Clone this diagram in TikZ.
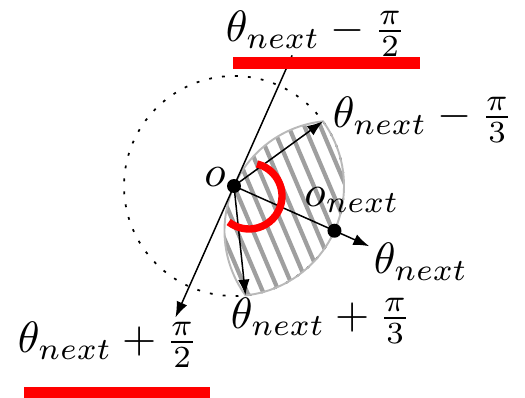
\documentclass[tikz,border=0pt]{standalone}
\usetikzlibrary{arrows.meta}
\begin{document}
\begin{tikzpicture}[
  x=0.02cm, y=0.02cm,
  >={Latex[length=9pt,width=6.5pt]},
  dot/.style={circle, fill=black, inner sep=0pt, minimum size=0.28cm},
  lab/.style={scale=2.5, inner sep=0pt},
  ray/.style={->, line width=0.85pt},
  hatch/.style={draw=gray!75, line width=2.4pt},
  rim/.style={draw=gray!55, line width=1.1pt},
  redarc/.style={draw=red, line width=4.2pt},
]
\useasboundingbox (0,0) rectangle (525,397);

\coordinate (o) at (234,211);
\coordinate (onext) at ([shift={(-24:110)}]o);
\coordinate (ttheta) at ([shift={(-24:148)}]o);
\coordinate (tmthird) at ([shift={(36:110)}]o);
\coordinate (tpthird) at ([shift={(-84:110)}]o);
\coordinate (ltop) at ([shift={(66:143)}]o);
\coordinate (lbot) at ([shift={(-114:144)}]o);

% reachable circle
\draw[line width=1pt, dash pattern=on 1.6pt off 5.8pt] (o) circle[radius=110];

% hatched lens
\begin{scope}
  \clip (tmthird) arc[start angle=36, end angle=-84, radius=110]
        arc[start angle=216, end angle=96, radius=110] -- cycle;
  \foreach \k in {-12,...,12}
    \draw[hatch] ([shift={(23:\k*14.7)}]o) ++(113:200) -- ++(-67:400);
\end{scope}
\draw[rim] (tmthird) arc[start angle=36, end angle=-84, radius=110]
      arc[start angle=216, end angle=96, radius=110] -- cycle;

% rays
\draw[line width=0.85pt] (ltop) -- (o);
\draw[ray] (o) -- (lbot);
\draw[ray] (o) -- (tmthird);
\draw[ray] (o) -- (tpthird);
\draw[ray] (o) -- (ttheta);

% angle mark
\draw[redarc] ([shift={(76:33)}]249,201) arc[start angle=76, end angle=-128, radius=33];

\node[dot] (odot) at (o) {};
\node[dot] (onextdot) at (onext) {};

\node[lab] (lmhalf) at (316,363) {$\theta_{next}-\frac{\pi}{2}$};
\node[lab] (lmthird) at (423,277) {$\theta_{next}-\frac{\pi}{3}$};
\node[lab] (ltheta) at (421,135) {$\theta_{next}$};
\node[lab] (lpthird) at (321,76) {$\theta_{next}+\frac{\pi}{3}$};
\node[lab] (lphalf) at (108,52) {$\theta_{next}+\frac{\pi}{2}$};
\node[lab] (lo) at (215,220) {$o$};
\node[lab] (lonext) at (352,197) {$o_{next}$};

% underlines
\fill[red] (233,328) rectangle (420,340);
\fill[red] (24,-2) rectangle (210,10);
\end{tikzpicture}
\end{document}
